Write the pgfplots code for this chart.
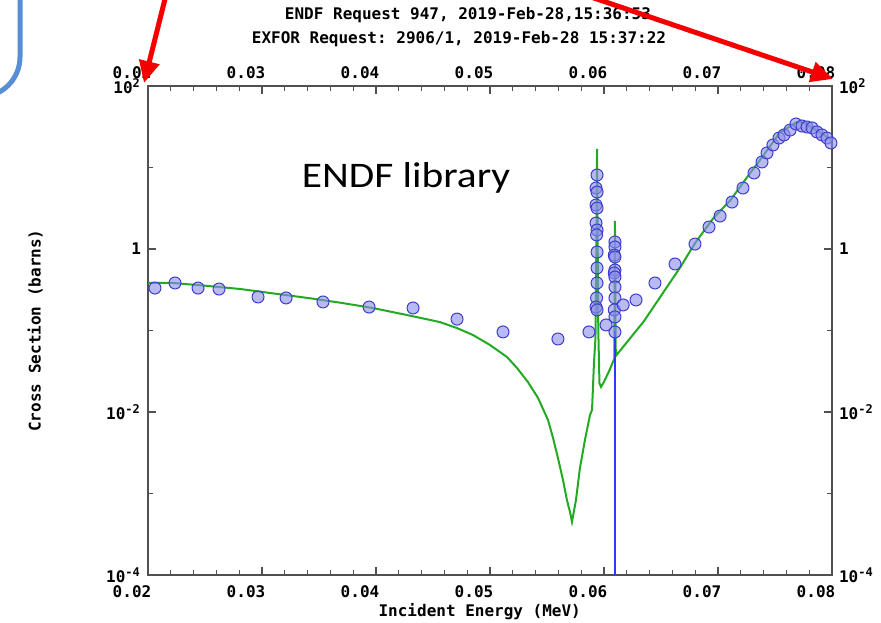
\documentclass[border=0pt]{standalone}
\usepackage{fontspec}
\setmonofont{DejaVu Sans Mono}
\newfontfamily\carlito{Carlito}
\usepackage{graphicx}
\usepackage{pgfplots}
\pgfplotsset{compat=1.18}
\usetikzlibrary{arrows.meta}

\definecolor{endfgreen}{RGB}{34,170,34}
\definecolor{exfedge}{RGB}{60,60,205}
\definecolor{exffill}{RGB}{140,140,235}
\definecolor{errblue}{RGB}{40,60,255}
\definecolor{framegray}{RGB}{80,80,80}
\definecolor{arrowred}{RGB}{245,0,0}
\definecolor{boxblue}{RGB}{88,142,214}

\pgfplotsset{endfbox/.style={
    at={(74pt,23.5pt)}, anchor=south west,
    scale only axis, width=342pt, height=244.5pt,
    xmin=0.02, xmax=0.08,
    ymin=1e-4, ymax=1e2,
    scaled x ticks=false,
    xtick={0.02,0.03,0.04,0.05,0.06,0.07,0.08},
    xticklabels={0.02,0.03,0.04,0.05,0.06,0.07,0.08},
    minor xtick={0.022,0.024,0.026,0.028,0.032,0.034,0.036,0.038,
                 0.042,0.044,0.046,0.048,0.052,0.054,0.056,0.058,
                 0.062,0.064,0.066,0.068,0.072,0.074,0.076,0.078},
    ytick={1e-4,1e-2,1,1e2},
    yticklabels={10\textsuperscript{-4},10\textsuperscript{-2},1,10\textsuperscript{2}},
    minor ytick={1e-3,1e-1,1e1},
    tick align=inside,
    major tick length=4pt, minor tick length=2.5pt,
    tick style={framegray, line width=0.6pt},
    axis line style={framegray, line width=0.7pt},
    ticklabel style={font=\ttfamily\bfseries\fontsize{8}{9}\selectfont},
}}

\begin{document}
\begin{tikzpicture}
\useasboundingbox (0,0) rectangle (440.5pt,311pt);
\clip (0,0) rectangle (440.5pt,311pt);

% labels on top and right
\begin{semilogyaxis}[endfbox, xticklabel pos=upper, yticklabel pos=upper,
    xticklabel style={xshift=-8pt}]
\end{semilogyaxis}

\begin{semilogyaxis}[endfbox, xticklabel pos=lower, yticklabel pos=lower,
    xticklabel style={xshift=-8pt, yshift=-2pt},
    label style={font=\ttfamily\bfseries\fontsize{8}{9}\selectfont},
    xlabel={Incident Energy (MeV)},
    ylabel={Cross Section (barns)},
    xlabel style={at={(axis description cs:0.485,-0.075)}, anchor=center},
    ylabel style={at={(axis description cs:-0.165,0.5)}, anchor=center},
]
% ENDF evaluation
\addplot[endfgreen, line width=1pt, no markers] table {
0.0200 0.383
0.0222 0.383
0.0250 0.355
0.0281 0.323
0.0310 0.285
0.0340 0.251
0.0370 0.218
0.0397 0.189
0.0430 0.152
0.0456 0.127
0.04711 0.107
0.04851 0.088
0.0500 0.0664
0.05149 0.0473
0.05237 0.0347
0.05333 0.0233
0.05421 0.0149
0.05509 0.00798
0.05553 0.0048
0.05596 0.00273
0.05640 0.00147
0.05675 0.00083
0.05702 0.00059
0.05719 0.00045
0.05754 0.00083
0.05789 0.00206
0.05833 0.00454
0.05877 0.00918
0.05895 0.0106
0.05912 0.040
0.05925 0.08
0.05935 2.0
0.05939 16.9
0.05944 1.5
0.05950 0.1
0.05960 0.0227
0.05974 0.0203
0.0600 0.0235
0.0605 0.033
0.0609 0.045
0.06096 2.21
0.06102 0.06
0.0611 0.05
0.0635 0.13
0.0667 0.60
0.0680 1.19
0.0696 2.40
0.0711 3.99
0.0725 7.43
0.0740 14.2
0.0754 26.5
0.0769 36.1
0.0775 35.5
0.0783 30.6
0.0800 21.7
};
% error bar running off the bottom
\addplot[draw=errblue, line width=0.7pt, no markers] coordinates {(0.06098,0.1) (0.06098,1e-5)};
% EXFOR data
\addplot[only marks, mark=*, mark size=3pt,
    mark options={draw=exfedge, fill=exffill, fill opacity=0.6, line width=0.5pt}] table {
0.02061 0.332
0.02237 0.383
0.02439 0.332
0.02623 0.323
0.02965 0.258
0.03211 0.251
0.03535 0.224
0.03939 0.194
0.04325 0.189
0.04711 0.138
0.05114 0.096
0.05596 0.0787
0.05868 0.096
0.05939 8.09
0.05930 5.60
0.05939 5.00
0.05930 3.47
0.05939 3.18
0.05930 2.08
0.05939 1.71
0.05935 1.49
0.05939 0.918
0.05939 0.585
0.05939 0.383
0.05935 0.251
0.05930 0.194
0.05939 0.179
0.06096 1.22
0.06096 1.06
0.06090 0.843
0.06096 0.798
0.06096 0.552
0.06090 0.508
0.06096 0.453
0.06096 0.342
0.06096 0.251
0.06090 0.179
0.06096 0.147
0.06096 0.096
0.06018 0.117
0.06168 0.206
0.06281 0.237
0.06447 0.383
0.06623 0.655
0.06798 1.15
0.06921 1.86
0.07018 2.54
0.07123 3.77
0.07219 5.60
0.07316 8.57
0.07386 11.7
0.07430 15.1
0.07482 18.9
0.07535 23.0
0.07579 25.1
0.07632 28.8
0.07684 34.2
0.07737 32.3
0.07781 31.4
0.07825 30.6
0.07868 27.3
0.07912 25.1
0.07956 23.0
0.07991 20.0
};
\end{semilogyaxis}

% annotations in pixel units, y downwards
\begin{scope}[x=0.5pt, y=-0.5pt, shift={(0pt,311pt)}]
\node[font=\ttfamily\bfseries\fontsize{8}{9}\selectfont] at (468,15) {ENDF Request 947, 2019-Feb-28,15:36:53};
\node[font=\ttfamily\bfseries\fontsize{8}{9}\selectfont] at (459,39) {EXFOR Request: 2906/1, 2019-Feb-28 15:37:22};
\node[font=\carlito\fontsize{18}{21}\selectfont, anchor=base] at (406,187) {\scalebox{1.15}[1]{ENDF library}};
\draw[boxblue, line width=2.5pt, rounded corners=20pt] (-100,-100) rectangle (20,97);
\draw[arrowred, line width=2.5pt, -{Triangle[length=11pt,width=10pt]}] (166,-5) -- (144,83);
\draw[arrowred, line width=2.5pt, -{Triangle[length=11pt,width=10pt]}] (585,-5) -- (833,79);
\end{scope}
\end{tikzpicture}
\end{document}
